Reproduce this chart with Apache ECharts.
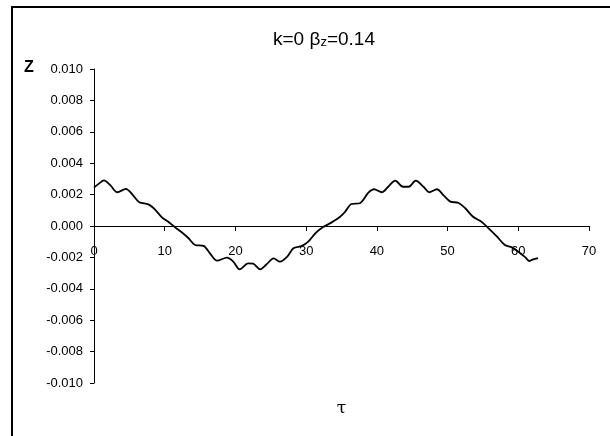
<!DOCTYPE html>
<html>
<head>
<meta charset="utf-8">
<script src="https://cdn.jsdelivr.net/npm/echarts@6/dist/echarts.min.js"></script>
<style>html,body{margin:0;padding:0;background:#fff}#c{width:610px;height:436px}</style>
</head>
<body>
<div id="c"></div>
<script>
const tau = [0, 0.7, 1.4, 2.3, 3.3, 4.5, 5.5, 6.4, 7.7, 8.6, 9.6, 10.5, 11.5, 12.4, 13.3, 14.3, 15.5, 16.4, 17.4, 18.8, 19.7, 20.6, 21.8, 22.5, 23.5, 24.4, 25.4, 26.3, 27.3, 28.2, 29.4, 30.3, 31.3, 32.3, 33.5, 34.8, 35.5, 36.4, 37.6, 38.8, 39.6, 40.7, 41.6, 42.6, 43.7, 44.5, 45.5, 46.6, 47.4, 48.5, 49.4, 50.4, 51.5, 52.5, 53.6, 54.8, 55.8, 57.0, 58.1, 59.1, 60.3, 61.0, 61.6, 62.1, 62.8];
const z = [0.00245, 0.0027, 0.0029, 0.0026, 0.00215, 0.00236, 0.00197, 0.00151, 0.00138, 0.00106, 0.00055, 0.00027, -0.0001, -0.0004, -0.00075, -0.00121, -0.00127, -0.00174, -0.00221, -0.00202, -0.00227, -0.00276, -0.00238, -0.0024, -0.00276, -0.00244, -0.00206, -0.00227, -0.00196, -0.00142, -0.00127, -0.001, -0.00047, -0.0001, 0.0002, 0.00059, 0.0009, 0.0014, 0.00145, 0.00212, 0.00234, 0.00215, 0.0025, 0.00289, 0.0025, 0.0025, 0.00289, 0.0025, 0.00215, 0.00234, 0.00197, 0.00155, 0.00148, 0.00113, 0.00059, 0.00027, -0.00015, -0.00068, -0.00121, -0.00136, -0.00174, -0.002, -0.00223, -0.00212, -0.00204];
const xTicks = [0, 10, 20, 30, 40, 50, 60, 70];
const yTicks = [-0.010, -0.008, -0.006, -0.004, -0.002, 0.000, 0.002, 0.004, 0.006, 0.008, 0.010];
const titleMain = 'k=0 β';
const titleSub = 'z';
const titleTail = '=0.14';
const yName = 'Z';
const xName = 'τ';

const FONT = '"Liberation Sans", Arial, sans-serif';
const chart = echarts.init(document.getElementById('c'), null, {renderer: 'canvas'});
chart.setOption({
  animation: false,
  backgroundColor: '#fff',
  title: {
    text: '{a|' + titleMain + '}{b|' + titleSub + '}{a|' + titleTail + '}',
    left: 319, top: 25, textAlign: 'center',
    textStyle: {
      rich: {
        a: {fontFamily: FONT, fontSize: 19, color: '#000', fontWeight: 'normal'},
        b: {fontFamily: FONT, fontSize: 13, color: '#000', fontWeight: 'normal', verticalAlign: 'bottom', padding: [5, 0, 0, 0]}
      }
    }
  },
  graphic: [
    {type: 'rect', shape: {x: 12, y: 7, width: 800, height: 600}, style: {fill: null, stroke: '#000', lineWidth: 2}, silent: true},
    {type: 'text', left: 24, top: 60, style: {text: yName, fontFamily: FONT, fontSize: 16, fontWeight: 'bold', fill: '#000'}}
  ],
  grid: {left: 94, right: 21, top: 69, bottom: 53, containLabel: false, outerBoundsMode: 'none'},
  xAxis: {
    type: 'value', min: xTicks[0], max: xTicks[xTicks.length - 1], interval: 10,
    position: 'bottom', offset: -157,
    name: xName, nameLocation: 'middle', nameGap: 174,
    nameTextStyle: {fontFamily: 'DejaVu Serif', fontSize: 17, color: '#000'},
    axisLine: {onZero: false, lineStyle: {color: '#000', width: 1}},
    axisTick: {show: true, inside: false, length: 5, lineStyle: {color: '#000'}},
    axisLabel: {margin: 19, fontFamily: FONT, fontSize: 13, color: '#000',
      formatter: v => xTicks.includes(v) ? String(v) : ''},
    splitLine: {show: false}
  },
  yAxis: {
    type: 'value', min: yTicks[0], max: yTicks[yTicks.length - 1], interval: 0.002,
    axisLine: {show: true, lineStyle: {color: '#000', width: 1}},
    axisTick: {show: true, inside: false, length: 4, lineStyle: {color: '#000'}},
    axisLabel: {margin: 11, fontFamily: FONT, fontSize: 13, color: '#000',
      formatter: v => v.toFixed(3)},
    splitLine: {show: false}
  },
  series: [{
    type: 'line',
    data: tau.map((t, i) => [t, z[i]]),
    showSymbol: false,
    smooth: 0.3,
    lineStyle: {color: '#000', width: 1.8}
  }]
});
</script>
</body>
</html>
